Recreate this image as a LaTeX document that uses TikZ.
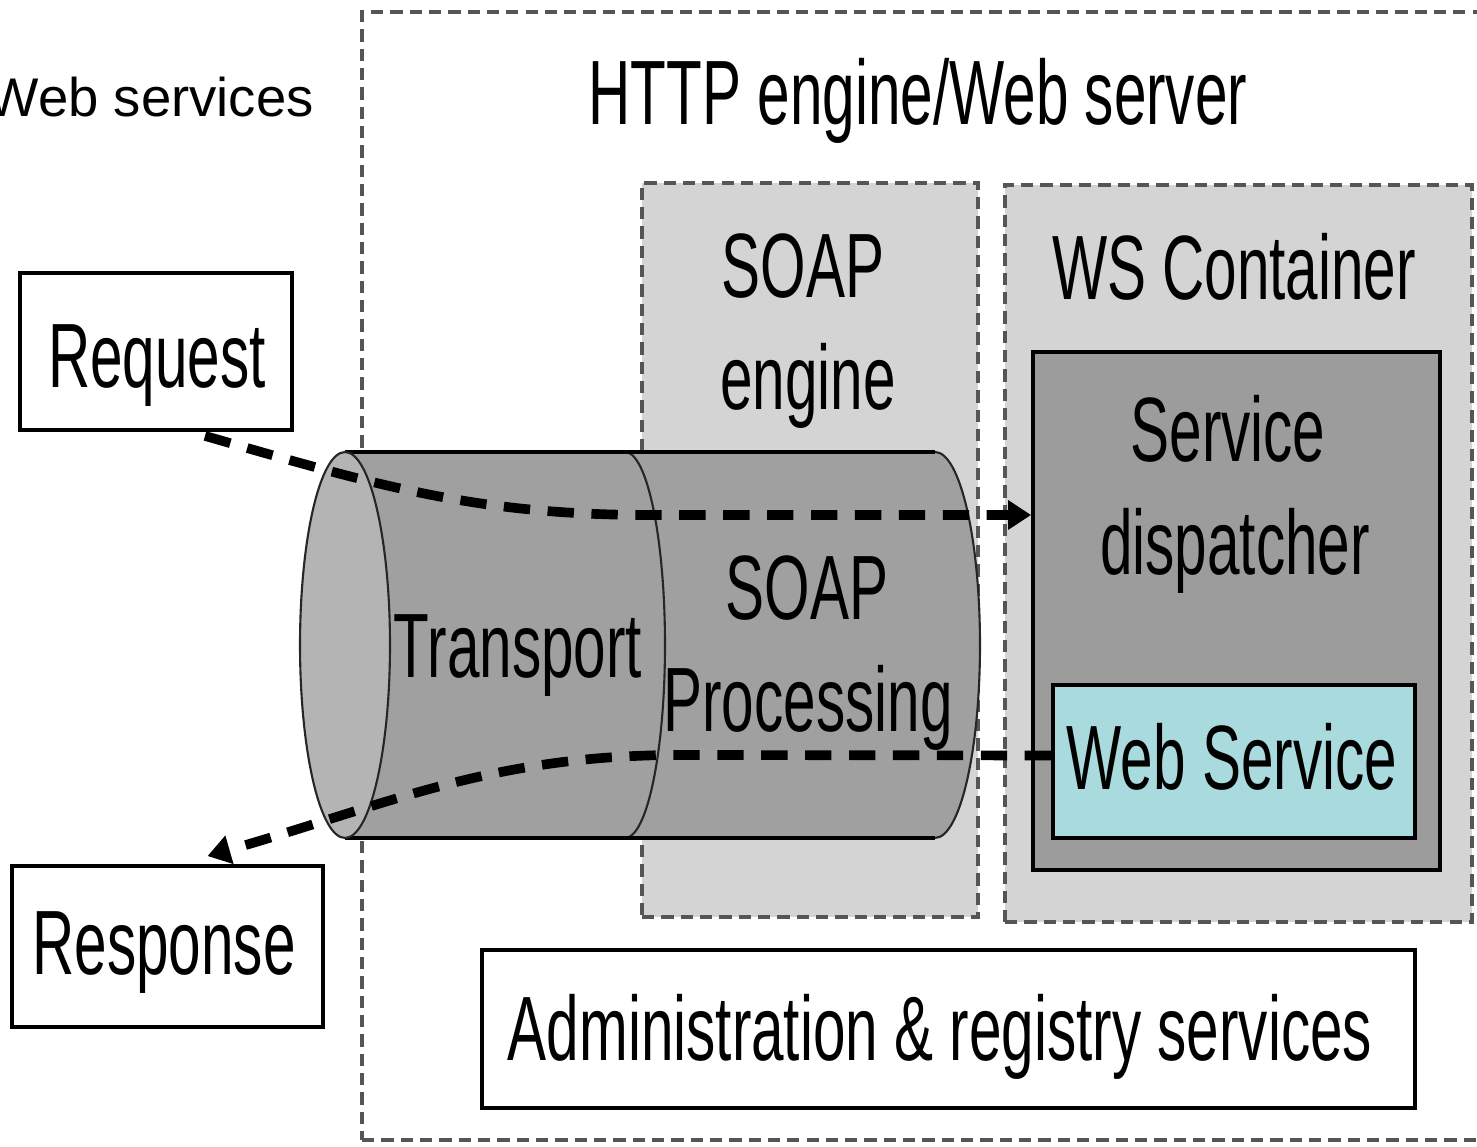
\documentclass[tikz,border=0pt]{standalone}
\usepackage{fontspec}
\usetikzlibrary{arrows.meta,fit,calc}
\newfontfamily\cond[FakeStretch=0.64]{Liberation Sans}
\newfontfamily\arialf{Liberation Sans}
\definecolor{lightg}{HTML}{D4D4D4}
\definecolor{cylbody}{HTML}{A0A0A0}
\definecolor{cylface}{HTML}{B4B4B4}
\definecolor{dispg}{HTML}{9C9C9C}
\definecolor{wscyan}{HTML}{A9DADD}
\definecolor{dashg}{HTML}{555555}
\tikzset{
  lbl/.style={font=\cond\fontsize{52}{64}\selectfont, anchor=base, inner sep=0pt},
  frame/.style={draw=dashg, line width=2pt, dash pattern=on 7pt off 4pt, inner sep=0pt},
  solidbox/.style={draw=black, line width=2.2pt, inner sep=0pt},
  flow/.style={draw=black, line width=5.5pt, dash pattern=on 15pt off 10pt,
    -{Triangle[length=13pt,width=16pt]}}
}
\begin{document}
\begin{tikzpicture}[x=0.02cm,y=0.02cm]
\useasboundingbox (0,0) rectangle (1477,1146);
% outer frame
\node[frame, fit={(362,6) (1490,1134)}] (outer) {};
\node[font=\arialf\fontsize{31}{38}\selectfont, anchor=base east, inner sep=0pt] (title) at (314,1029) {Web services};
\node[lbl] (http) at (918,1021) {HTTP engine/Web server};
% SOAP engine and WS container
\node[frame, fill=lightg, fit={(642,229) (978,963)}] (engine) {};
\node[frame, fill=lightg, fit={(1005,224) (1472,961)}] (wsc) {};
\node[lbl] (soap1) at (803,848) {SOAP};
\node[lbl] (engtxt) at (808,736) {engine};
\node[lbl] (wsctxt) at (1234,846) {WS Container};
% cylinder
\fill[cylbody] (345,694) -- (935,694) arc[start angle=90,end angle=-90,x radius=0.9cm,y radius=3.86cm] -- (345,308) -- cycle;
\draw[black!85, line width=1.2pt] (935,694) arc[start angle=90,end angle=-90,x radius=0.9cm,y radius=3.86cm];
\draw[black!85, line width=1.2pt] (625,694) arc[start angle=90,end angle=-90,x radius=0.8cm,y radius=3.86cm];
\draw[black, line width=2.3pt] (345,694) -- (935,694);
\draw[black, line width=2.3pt] (345,308) -- (935,308);
\filldraw[fill=cylface, draw=black!85, line width=1.2pt] (345,501) ellipse[x radius=0.9cm, y radius=3.86cm];
\node[lbl] (transport) at (518,468) {Transport};
\node[lbl] (soap2) at (807,526) {SOAP};
\node[lbl] (proc) at (808,414) {Processing};
% dispatcher and web service
\node[solidbox, fill=dispg, fit={(1033,276) (1440,794)}] (disp) {};
\node[lbl] (serv) at (1228,684) {Service};
\node[lbl] (dispt) at (1235,571) {dispatcher};
\node[solidbox, fill=wscyan, fit={(1053,308) (1415,461)}] (ws) {};
\node[lbl] (wstxt) at (1232,356) {Web Service};
% admin
\node[solidbox, fill=white, fit={(482,38) (1415,196)}] (admin) {};
\node[lbl] (admintxt) at (940,86) {Administration \& registry services};
% request / response
\node[solidbox, fill=white, fit={(20,716) (292,873)}] (req) {};
\node[lbl] (reqtxt) at (157,758) {Request};
\node[solidbox, fill=white, fit={(12,119) (323,280)}] (resp) {};
\node[lbl] (resptxt) at (164,171) {Response};
% flows
\coordinate (a1) at ($(req.south)+(49,-4)$);
\coordinate (a2) at ($(disp.west)+(0,96)$);
\draw[flow] (a1) to[out=-16,in=180] (650,631) -- (a2);
\coordinate (b1) at ($(ws.west)+(0,6)$);
\coordinate (b2) at ($(resp.north)+(40,8)$);
\draw[flow] (b1) -- (680,391) to[out=180,in=16] (b2);
\end{tikzpicture}
\end{document}
